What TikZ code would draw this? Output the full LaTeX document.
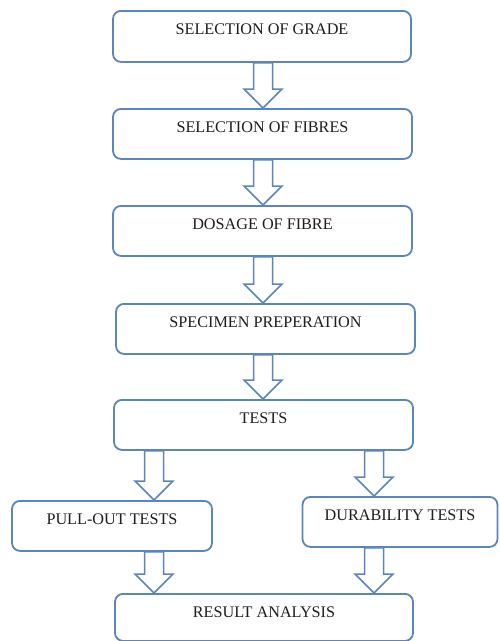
\documentclass[tikz,border=0pt]{standalone}
\usepackage{fontspec}
\setmainfont{Liberation Serif}
\usetikzlibrary{calc}
\definecolor{edge}{HTML}{5A85BF}
\definecolor{ink}{HTML}{1E1E1E}
\tikzset{
  box/.style={draw=edge, line width=1.8pt, rounded corners=8pt, fill=white,
    anchor=north, inner xsep=0pt, inner ysep=0pt, text=ink,
    font=\fontsize{16.2}{19}\selectfont, text height=23.5pt},
  barrow/.style={draw=edge, line width=1.5pt, fill=white, line join=miter},
}
\newcommand\blockarrow[3]{%
  \path[barrow] let \p1=(#1.south), \p2=(#2.north) in
    (#3pt-9.5pt,\y1) -- (#3pt+9.5pt,\y1) -- (#3pt+9.5pt,\y2+19pt)
    -- (#3pt+19pt,\y2+19pt) -- (#3pt,\y2) -- (#3pt-19pt,\y2+19pt)
    -- (#3pt-9.5pt,\y2+19pt) -- cycle;}
\begin{document}
\begin{tikzpicture}[x=1pt,y=-1pt]
\useasboundingbox (0,0) rectangle (499,641);
\node[box, minimum width=298pt, text depth=27.5pt] (b1) at (262,10) {SELECTION OF GRADE};
\node[box, minimum width=299pt, text depth=26.5pt] (b2) at (262.5,108) {SELECTION OF FIBRES};
\node[box, minimum width=299pt, text depth=26.5pt] (b3) at (262.5,205) {DOSAGE OF FIBRE};
\node[box, minimum width=299pt, text depth=26.5pt] (b4) at (265.5,303) {SPECIMEN PREPERATION};
\node[box, minimum width=299pt, text depth=26.5pt] (b5) at (263.5,399) {TESTS};
\node[box, minimum width=200pt, text depth=26.5pt] (p) at (112,500) {PULL-OUT TESTS};
\node[box, minimum width=195pt, text depth=26.5pt] (d) at (400,496) {DURABILITY TESTS};
\node[box, minimum width=298pt, text depth=23.5pt] (r) at (264,593) {RESULT ANALYSIS};
\blockarrow{b1}{b2}{263}
\blockarrow{b2}{b3}{263}
\blockarrow{b3}{b4}{263}
\blockarrow{b4}{b5}{263}
\blockarrow{b5}{p}{154}
\blockarrow{b5}{d}{374}
\blockarrow{p}{r}{154}
\blockarrow{d}{r}{374}
\end{tikzpicture}
\end{document}
